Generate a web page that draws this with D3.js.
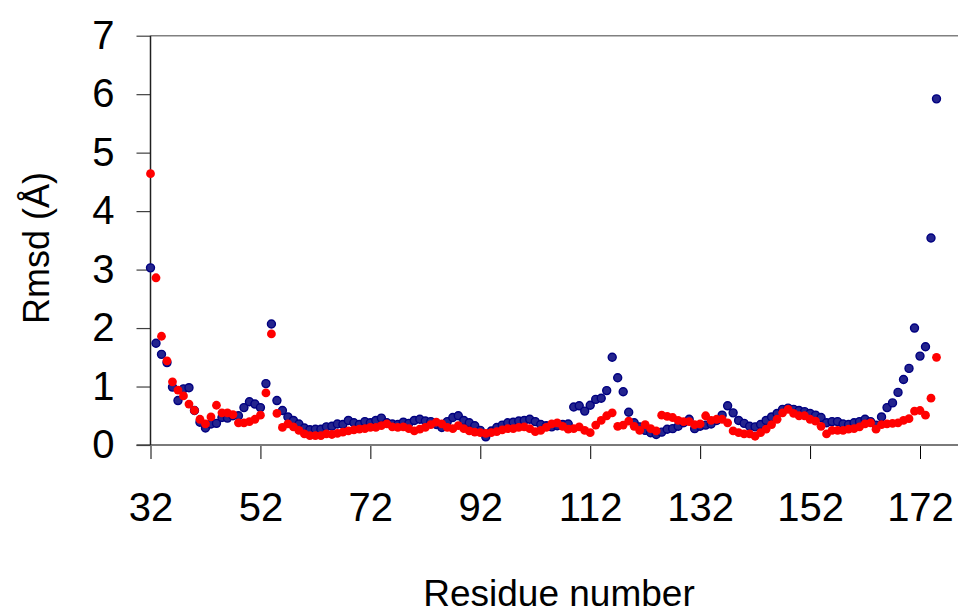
<!DOCTYPE html>
<html>
<head>
<meta charset="utf-8">
<script src="https://cdn.jsdelivr.net/npm/d3@7"></script>
<style>
  html, body { margin: 0; padding: 0; background: #ffffff; }
  svg { display: block; }
  text { font-family: "Liberation Sans", Arial, sans-serif; fill: #000; }
</style>
</head>
<body>
<svg id="chart" width="958" height="615"></svg>
<script>
// Residue numbers (x categories)
const residues = [
  32,33,34,35,36,37,38,39,40,41,
  42,43,44,45,46,47,48,49,50,51,
  52,53,54,55,56,57,58,59,60,61,
  62,63,64,65,66,67,68,69,70,71,
  72,73,74,75,76,77,78,79,80,81,
  82,83,84,85,86,87,88,89,90,91,
  92,93,94,95,96,97,98,99,100,101,
  102,103,104,105,106,107,108,109,110,111,
  112,113,114,115,116,117,118,119,120,121,
  122,123,124,125,126,127,128,129,130,131,
  132,133,134,135,136,137,138,139,140,141,
  142,143,144,145,146,147,148,149,150,151,
  152,153,154,155,156,157,158,159,160,161,
  162,163,164,165,166,167,168,169,170,171,
  172,173,174,175
];

// Series 1 (navy)
const rmsdBlue = [
  3.03,1.74,1.55,1.41,0.99,0.76,0.96,0.98,0.59,0.39,
  0.29,0.36,0.37,0.47,0.46,0.50,0.50,0.64,0.74,0.70,
  0.64,1.05,2.07,0.76,0.59,0.48,0.42,0.36,0.29,0.26,
  0.27,0.27,0.31,0.32,0.36,0.35,0.42,0.38,0.35,0.40,
  0.38,0.42,0.46,0.38,0.36,0.35,0.39,0.37,0.42,0.44,
  0.41,0.40,0.35,0.30,0.40,0.47,0.50,0.42,0.38,0.33,
  0.25,0.14,0.24,0.30,0.34,0.38,0.39,0.41,0.42,0.44,
  0.40,0.35,0.33,0.31,0.33,0.35,0.36,0.65,0.67,0.58,
  0.68,0.78,0.80,0.93,1.50,1.15,0.91,0.56,0.38,0.31,
  0.25,0.21,0.18,0.22,0.27,0.28,0.32,0.38,0.44,0.28,
  0.32,0.34,0.36,0.42,0.51,0.67,0.55,0.42,0.37,0.32,
  0.31,0.35,0.42,0.48,0.54,0.61,0.63,0.61,0.59,0.57,
  0.54,0.51,0.47,0.38,0.40,0.40,0.36,0.35,0.38,0.40,
  0.44,0.40,0.34,0.48,0.64,0.72,0.90,1.12,1.31,2.00,
  1.52,1.68,3.54,5.92
];

// Series 2 (red)
const rmsdRed = [
  4.64,2.86,1.86,1.44,1.08,0.94,0.84,0.70,0.59,0.44,
  0.36,0.48,0.68,0.55,0.55,0.52,0.38,0.38,0.40,0.44,
  0.51,0.89,1.90,0.54,0.30,0.36,0.31,0.25,0.19,0.16,
  0.16,0.16,0.19,0.18,0.20,0.22,0.24,0.26,0.27,0.28,
  0.30,0.30,0.33,0.36,0.31,0.30,0.31,0.28,0.24,0.27,
  0.30,0.35,0.39,0.36,0.30,0.28,0.33,0.28,0.24,0.22,
  0.21,0.20,0.21,0.23,0.26,0.28,0.28,0.30,0.31,0.28,
  0.23,0.25,0.30,0.36,0.38,0.32,0.27,0.28,0.31,0.25,
  0.21,0.34,0.42,0.50,0.55,0.32,0.34,0.41,0.32,0.25,
  0.35,0.28,0.24,0.51,0.49,0.47,0.42,0.40,0.40,0.35,
  0.36,0.50,0.42,0.44,0.44,0.38,0.24,0.21,0.19,0.19,
  0.15,0.21,0.27,0.35,0.44,0.55,0.61,0.54,0.50,0.50,
  0.44,0.41,0.32,0.19,0.25,0.25,0.25,0.27,0.28,0.31,
  0.36,0.38,0.27,0.35,0.36,0.37,0.38,0.42,0.45,0.58,
  0.59,0.51,0.80,1.50
];

const xTickValues = [32, 52, 72, 92, 112, 132, 152, 172];
const yTickValues = [0, 1, 2, 3, 4, 5, 6, 7];
const xTitle = "Residue number";
const yTitle = "Rmsd (Å)";

const svg = d3.select("#chart");

const x = d3.scaleLinear().domain([32, 172]).range([150.5, 920]);
const y = d3.scaleLinear().domain([0, 7]).range([445, 35.7]);
const xEnd = 958;

// plot frame: top border (gray)
svg.append("line")
  .attr("x1", x(32)).attr("x2", xEnd)
  .attr("y1", y(7)).attr("y2", y(7))
  .attr("stroke", "#808080").attr("stroke-width", 1.5);

// X axis
const xAxis = d3.axisBottom(x).tickValues(xTickValues).tickSize(14).tickPadding(34).tickFormat(d3.format("d"));
const gx = svg.append("g").attr("transform", `translate(0,${y(0)})`).call(xAxis);
gx.select(".domain").remove();
gx.selectAll(".tick line").attr("stroke", "#000").attr("stroke-width", 1);
gx.selectAll(".tick text").attr("font-size", 40).attr("font-family", '"Liberation Sans", Arial, sans-serif');
gx.append("line")
  .attr("x1", x(32) - 14).attr("x2", xEnd)
  .attr("y1", 0).attr("y2", 0)
  .attr("stroke", "#7a7a7a").attr("stroke-width", 2.2);

// Y axis
const yAxis = d3.axisLeft(y).tickValues(yTickValues).tickSize(14).tickPadding(22).tickFormat(d3.format("d"));
const gy = svg.append("g").attr("transform", `translate(${x(32)},0)`).call(yAxis);
gy.select(".domain").remove();
gy.selectAll(".tick line").attr("stroke", "#404040").attr("stroke-width", 1.2);
gy.selectAll(".tick text").attr("font-size", 40).attr("font-family", '"Liberation Sans", Arial, sans-serif');
gy.append("line")
  .attr("x1", 0).attr("x2", 0)
  .attr("y1", y(7)).attr("y2", y(0))
  .attr("stroke", "#202020").attr("stroke-width", 1.5);

// Series points
const blueData = residues.map((r, i) => ({ r, v: rmsdBlue[i] }));
const redData = residues.map((r, i) => ({ r, v: rmsdRed[i] }));

svg.append("g").selectAll("circle")
  .data(blueData).join("circle")
  .attr("cx", d => x(d.r)).attr("cy", d => y(d.v))
  .attr("r", 4.0)
  .attr("fill", "#24248e").attr("stroke", "#000080").attr("stroke-width", 1.4);

svg.append("g").selectAll("circle")
  .data(redData).join("circle")
  .attr("cx", d => x(d.r)).attr("cy", d => y(d.v))
  .attr("r", 4.4)
  .attr("fill", "#ff0000").attr("stroke", "none");

// Titles
svg.append("text")
  .attr("x", 559).attr("y", 606)
  .attr("text-anchor", "middle")
  .attr("font-size", 37)
  .text(xTitle);

svg.append("text")
  .attr("transform", "translate(49,248) rotate(-90)")
  .attr("text-anchor", "middle")
  .attr("font-size", 36)
  .text(yTitle);
</script>
</body>
</html>
